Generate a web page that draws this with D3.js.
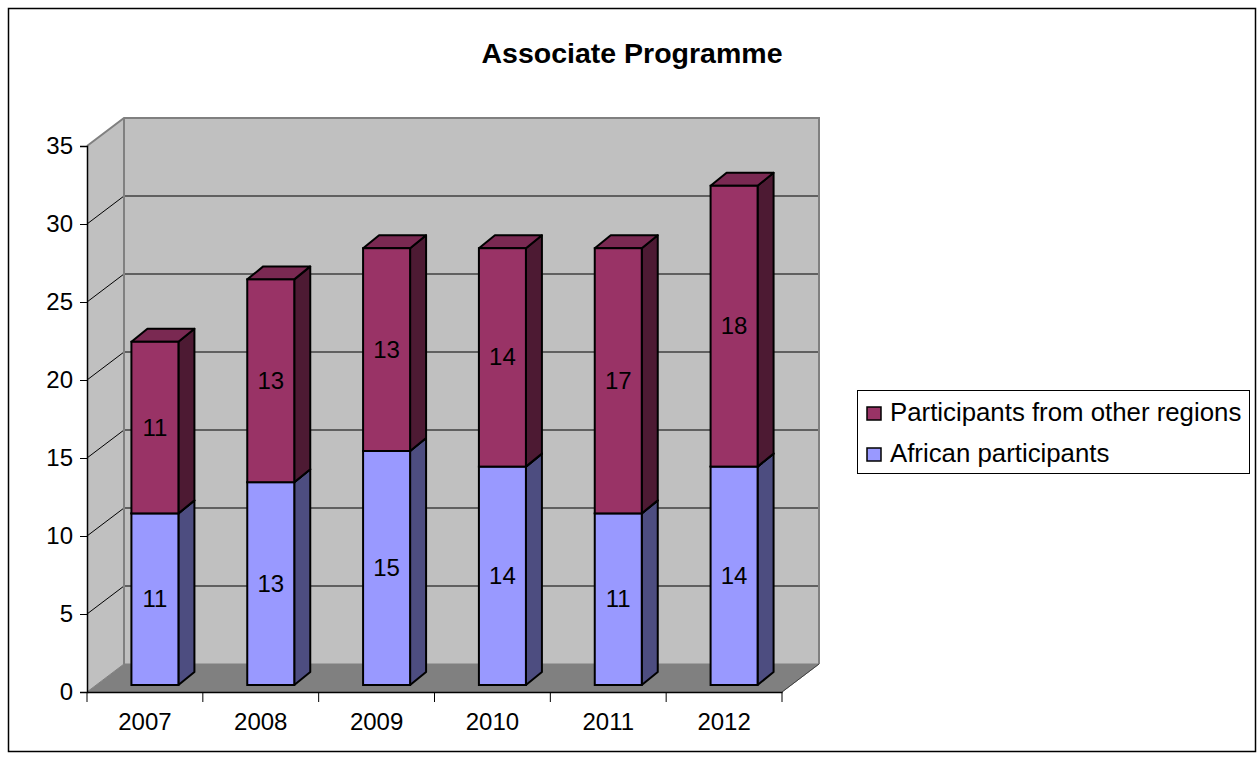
<!DOCTYPE html>
<html>
<head>
<meta charset="utf-8">
<script src="https://cdn.jsdelivr.net/npm/d3@7"></script>
<style>
  html, body { margin: 0; padding: 0; background: #fff; }
  svg { display: block; font-family: Arial, "Liberation Sans", sans-serif; }
</style>
</head>
<body>
<svg id="chart" width="1257" height="760"></svg>
<script>
const title = "Associate Programme";
const years = ["2007", "2008", "2009", "2010", "2011", "2012"];
const african = [11, 13, 15, 14, 11, 14];
const other = [11, 13, 13, 14, 17, 18];
const yTicks = [0, 5, 10, 15, 20, 25, 30, 35];
const seriesNames = ["Participants from other regions", "African participants"];

const svg = d3.select("#chart");

// chart border
svg.append("rect").attr("x", 8.5).attr("y", 8.5).attr("width", 1247).attr("height", 743)
  .attr("fill", "#fff").attr("stroke", "#000").attr("stroke-width", 1.5);

// title
svg.append("text").attr("x", 632).attr("y", 63).attr("text-anchor", "middle")
  .attr("font-size", 28.5).attr("font-weight", "bold").attr("fill", "#000").text(title);

const x0 = 87, x1 = 782;
const y = d3.scaleLinear().domain([0, 35]).range([692, 146]);
const x = d3.scaleBand().domain(years).range([x0, x1]);
const DX = 37, DY = -28; // wall depth

// back wall
svg.append("rect").attr("x", x0 + DX).attr("y", y(35) + DY).attr("width", x1 - x0)
  .attr("height", y(0) - y(35)).attr("fill", "#c0c0c0");
// left wall
svg.append("polygon").attr("points", [[x0, y(35)], [x0 + DX, y(35) + DY], [x0 + DX, y(0) + DY], [x0, y(0)]].join(" "))
  .attr("fill", "#c0c0c0");

// gridlines
yTicks.filter(t => t > 0 && t < 35).forEach(t => {
  svg.append("polyline")
    .attr("points", [[x0, y(t)], [x0 + DX, y(t) + DY], [x1 + DX, y(t) + DY]].join(" "))
    .attr("fill", "none").attr("stroke", "#000").attr("stroke-width", 1);
});

// wall borders
svg.append("polyline")
  .attr("points", [[x0, y(35)], [x0 + DX, y(35) + DY], [x1 + DX, y(35) + DY], [x1 + DX, y(0) + DY]].join(" "))
  .attr("fill", "none").attr("stroke", "#808080").attr("stroke-width", 2);
svg.append("line").attr("x1", x0 + DX).attr("y1", y(35) + DY).attr("x2", x0 + DX).attr("y2", y(0) + DY)
  .attr("stroke", "#808080").attr("stroke-width", 2);

// floor
svg.append("polygon")
  .attr("points", [[x0, y(0)], [x0 + DX, y(0) + DY], [x1 + DX, y(0) + DY], [x1, y(0)]].join(" "))
  .attr("fill", "#808080").attr("stroke", "#808080").attr("stroke-width", 1);
svg.append("line").attr("x1", x1).attr("y1", y(0)).attr("x2", x1 + DX).attr("y2", y(0) + DY)
  .attr("stroke", "#404040").attr("stroke-width", 1);

// y axis
const yAxis = d3.axisLeft(y).tickValues(yTicks).tickSize(7).tickPadding(7).tickFormat(d3.format("d"));
const gy = svg.append("g").attr("transform", `translate(${x0},0)`).call(yAxis);
gy.select(".domain").attr("stroke", "#000").attr("stroke-width", 1.5);
gy.selectAll(".tick line").attr("stroke", "#000");
gy.selectAll(".tick text").attr("font-size", 24).attr("font-family", "Arial, 'Liberation Sans', sans-serif").attr("fill", "#000");

// x axis
const gx = svg.append("g").attr("transform", `translate(0,${y(0)})`)
  .call(d3.axisBottom(x).tickSize(0).tickPadding(21));
gx.select(".domain").attr("stroke", "#000").attr("stroke-width", 1.5);
gx.selectAll(".tick text").attr("font-size", 24).attr("font-family", "Arial, 'Liberation Sans', sans-serif").attr("fill", "#000");
// category boundary ticks
years.concat(["end"]).forEach((c, i) => {
  const xx = i < years.length ? x(c) : x1;
  svg.append("line").attr("x1", xx).attr("x2", xx).attr("y1", y(0)).attr("y2", y(0) + 10)
    .attr("stroke", "#000").attr("stroke-width", 1);
});

// bars
const bw = 47, bOff = 10, fy = -7, bdx = 16, bdy = -13;
const colors = {
  african: { front: "#9999ff", side: "#4d4d80", top: "#7a7acc" },
  other: { front: "#993366", side: "#4d1a33", top: "#7a2952" }
};
years.forEach((yr, i) => {
  const cx = x(yr) + x.bandwidth() / 2 + bOff;
  const left = cx - bw / 2, right = cx + bw / 2;
  const segs = [
    { v0: 0, v1: african[i], c: colors.african, label: african[i] },
    { v0: african[i], v1: african[i] + other[i], c: colors.other, label: other[i] }
  ];
  segs.forEach(s => {
    const yb = y(s.v0) + fy, yt = y(s.v1) + fy;
    svg.append("polygon")
      .attr("points", [[right, yb], [right + bdx, yb + bdy], [right + bdx, yt + bdy], [right, yt]].join(" "))
      .attr("fill", s.c.side).attr("stroke", "#000").attr("stroke-width", 2).attr("stroke-linejoin", "round");
    svg.append("polygon")
      .attr("points", [[left, yt], [left + bdx, yt + bdy], [right + bdx, yt + bdy], [right, yt]].join(" "))
      .attr("fill", s.c.top).attr("stroke", "#000").attr("stroke-width", 2).attr("stroke-linejoin", "round");
    svg.append("rect").attr("x", left).attr("y", yt).attr("width", bw).attr("height", yb - yt)
      .attr("fill", s.c.front).attr("stroke", "#000").attr("stroke-width", 2);
    svg.append("text").attr("x", cx).attr("y", (yt + yb) / 2 + 8).attr("text-anchor", "middle")
      .attr("font-size", 24).attr("fill", "#000").text(s.label);
  });
});

// legend
svg.append("rect").attr("x", 857.5).attr("y", 390.5).attr("width", 392).attr("height", 83)
  .attr("fill", "#fff").attr("stroke", "#000").attr("stroke-width", 1);
const legendItems = [
  { name: seriesNames[0], color: colors.other.front, y: 413 },
  { name: seriesNames[1], color: colors.african.front, y: 454 }
];
legendItems.forEach(it => {
  svg.append("rect").attr("x", 867).attr("y", it.y - 6).attr("width", 14).attr("height", 13)
    .attr("fill", it.color).attr("stroke", "#000").attr("stroke-width", 1.5);
  svg.append("text").attr("x", 890).attr("y", it.y + 8).attr("font-size", 25.8).attr("fill", "#000").text(it.name);
});
</script>
</body>
</html>
